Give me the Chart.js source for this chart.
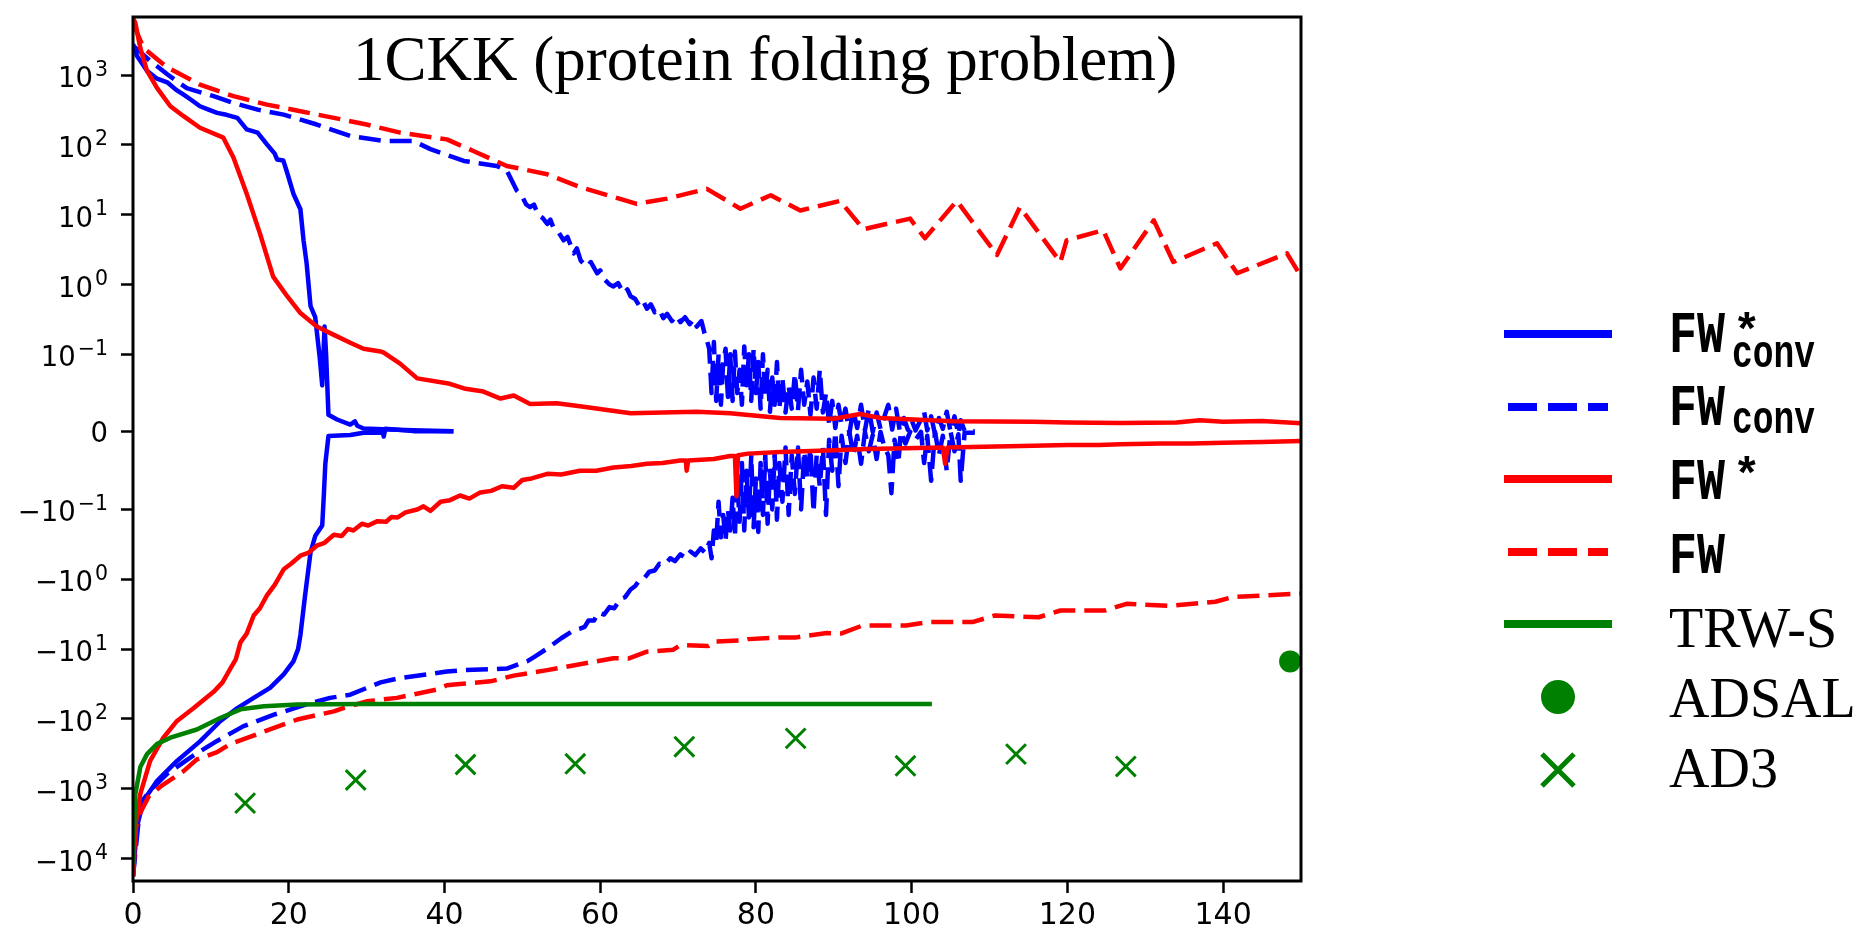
<!DOCTYPE html>
<html>
<head>
<meta charset="utf-8">
<title>1CKK (protein folding problem)</title>
<script src="https://cdn.jsdelivr.net/npm/chart.js@4.4.1/dist/chart.umd.min.js"></script>
<style>
    body { margin: 0; background: #fff; }
    #wrap { position: relative; width: 1875px; height: 936px; }
    #myChart, #overlay { position: absolute; left: 0; top: 0; }
    #overlay { pointer-events: none; }
    .tt { font-family: 'Liberation Mono', monospace; font-weight: bold; font-size: 60px; }
    .tts { font-family: 'Liberation Mono', monospace; font-weight: bold; font-size: 46px; }
    .rm { font-family: 'Liberation Serif', 'Times New Roman', serif; font-size: 56px; }
    .ylab { font-family: 'DejaVu Sans', sans-serif; font-size: 27.5px; }
</style>
</head>
<body>
<div id="wrap">
<canvas id="myChart" width="1875" height="936"></canvas>
<svg id="overlay" width="1875" height="936">
    <text x="353" y="80" font-family="'Liberation Serif', 'Times New Roman', serif" font-size="63">1CKK (protein folding problem)</text>

    <line x1="1504" y1="334" x2="1612" y2="334" stroke="#0000ff" stroke-width="8"/>
    <text class="tt" x="1669" y="352" textLength="56" lengthAdjust="spacingAndGlyphs">FW</text>
    <text class="tts" x="1733" y="346">*</text>
    <text class="tts" x="1732" y="367" textLength="83" lengthAdjust="spacingAndGlyphs">conv</text>

    <line x1="1508" y1="407" x2="1608" y2="407" stroke="#0000ff" stroke-width="8" stroke-dasharray="29 11"/>
    <text class="tt" x="1669" y="425" textLength="56" lengthAdjust="spacingAndGlyphs">FW</text>
    <text class="tts" x="1732" y="433" textLength="83" lengthAdjust="spacingAndGlyphs">conv</text>

    <line x1="1504" y1="479" x2="1612" y2="479" stroke="#ff0000" stroke-width="8"/>
    <text class="tt" x="1669" y="499" textLength="56" lengthAdjust="spacingAndGlyphs">FW</text>
    <text class="tts" x="1733" y="490">*</text>

    <line x1="1508" y1="552" x2="1608" y2="552" stroke="#ff0000" stroke-width="8" stroke-dasharray="29 11"/>
    <text class="tt" x="1669" y="573" textLength="56" lengthAdjust="spacingAndGlyphs">FW</text>

    <line x1="1504" y1="624" x2="1612" y2="624" stroke="#008000" stroke-width="8"/>
    <text class="rm" x="1669" y="647">TRW-S</text>

    <circle cx="1558" cy="697" r="17" fill="#008000"/>
    <text class="rm" x="1669" y="717">ADSAL</text>

    <path d="M1542 754 L1574 786 M1574 754 L1542 786" stroke="#008000" stroke-width="5"/>
    <text class="rm" x="1669" y="787">AD3</text>
</svg>
</div>
<script>
// y axis is symlog (linthresh 0.1, linscale 1) like matplotlib
const linthresh = 0.1;
const linscale = 1 / (1 - 1 / 10);

function symlog(v) {
    let a = Math.abs(v);
    if (a <= linthresh) return v / linthresh * linscale;
    return Math.sign(v) * (linscale + Math.log10(a / linthresh));
}

const xTicks = [0, 20, 40, 60, 80, 100, 120, 140];
const yTickValues = [-10000, -1000, -100, -10, -1, -0.1, 0, 0.1, 1, 10, 100, 1000];
const yTickBase = ['\u221210', '\u221210', '\u221210', '\u221210', '\u221210', '\u221210', '0', '10', '10', '10', '10', '10'];
const yTickExp = ['4', '3', '2', '1', '0', '\u22121', '', '\u22121', '0', '1', '2', '3'];
const xLimits = [0, 150];
const yLimits = [-21000, 6800];

// [iteration, value] pairs
const fwConvStarUp = [[0, 2800], [0.5, 1900], [1.8, 1150], [3, 900], [4.4, 790], [5.5, 620], [6.5, 525], [7.5, 440],
    [8.6, 358], [9.7, 320], [10.8, 288], [12, 270], [13.4, 244], [14.6, 167], [16, 150], [17.2, 102], [18.2, 75],
    [18.5, 62], [19.3, 60], [19.8, 40], [20.6, 20], [21.5, 12], [21.9, 4.3], [22.3, 2.0], [22.8, 0.49], [23.4, 0.34],
    [24.0, 0.094], [24.3, 0.06], [24.6, 0.25], [24.8, 0.1], [25.1, 0.022], [26.2, 0.016], [27.9, 0.0095],
    [28.5, 0.0137], [28.8, 0.008], [29.6, 0.0044], [33, 0.003], [36, 0.002], [41.15, 0.001]];

const fwConvStarLow = [[0, -18000], [0.5, -3500], [1.36, -1480], [3.1, -770], [5.65, -400], [8.6, -210], [11.2, -108],
    [13.4, -70], [15.5, -50], [17.6, -36], [19.35, -23], [20.6, -15], [21.2, -10], [21.5, -6.3], [22.1, -1.7],
    [22.8, -0.41], [23.4, -0.24], [24.3, -0.17], [24.5, -0.083], [24.7, -0.041], [25.1, -0.0053], [27.9, -0.004],
    [29.6, -0.001], [32.1, -0.001], [32.2, -0.006], [32.4, 0.004], [36, 0.001], [41.15, 0.001]];

const fwConvUp = [[0, 2650], [2.2, 1600], [4.4, 1030], [6.9, 650], [10.35, 500], [12.9, 400], [16, 320], [19.35, 272],
    [23.6, 196], [27.9, 134], [32.2, 114], [36, 114], [38.2, 87], [42.5, 59], [46.7, 50], [48, 43], [49.3, 22],
    [50, 18], [50.5, 14], [51, 12.8], [51.5, 14], [52, 10], [52.6, 9], [53.2, 7.4], [53.6, 8.5], [54, 6.5],
    [54.7, 5.5], [55.3, 4.3], [55.8, 4.8], [56.6, 2.8], [57, 3.3], [57.5, 2.2], [58.3, 1.8], [58.8, 2.1],
    [59.6, 1.45], [60, 1.6], [60.5, 1.2], [61.2, 1.0], [61.7, 0.94], [62.3, 1.05], [63, 0.75], [63.5, 0.85],
    [63.9, 0.68], [64.5, 0.62], [65, 0.5], [65.5, 0.58], [66, 0.45], [66.5, 0.52], [67, 0.4], [67.6, 0.44],
    [68.1, 0.33], [68.6, 0.38], [69.2, 0.3], [69.8, 0.36], [70.3, 0.29], [70.9, 0.34], [71.5, 0.27], [72, 0.32],
    [72.4, 0.25], [73, 0.3], [73.4, 0.2], [73.7, 0.16],
    [74.0, 0.12], [74.3, 0.05], [74.6, 0.15], [74.9, 0.04], [75.2, 0.1], [75.5, 0.035], [75.8, 0.09], [76.1, 0.12],
    [76.4, 0.045], [76.7, 0.1], [77.0, 0.04], [77.3, 0.11], [77.6, 0.05], [77.9, 0.08], [78.2, 0.035], [78.5, 0.13],
    [78.8, 0.06], [79.1, 0.1], [79.4, 0.04], [79.7, 0.12], [80.0, 0.05], [80.3, 0.09], [80.6, 0.03], [80.9, 0.1],
    [81.2, 0.045], [81.5, 0.08], [81.8, 0.026], [82.1, 0.07], [82.4, 0.035], [82.7, 0.09], [83.0, 0.03], [83.4, 0.07],
    [83.8, 0.025], [84.2, 0.06], [84.6, 0.03], [85.0, 0.075], [85.4, 0.028], [85.8, 0.08], [86.2, 0.035], [86.6, 0.065],
    [87.0, 0.022], [87.4, 0.07], [87.8, 0.03], [88.2, 0.08], [88.6, 0.025], [89.0, 0.05], [89.4, 0.01], [89.8, 0.04],
    [90.2, 0.005], [90.6, 0.035], [91.0, 0.01], [91.5, 0.03], [92.0, -0.002], [92.5, 0.028], [93.0, 0.005],
    [93.5, 0.035], [94.0, 0.002], [94.5, 0.03], [95.0, 0.0], [95.5, 0.025], [96.0, 0.004], [96.5, 0.02], [97.0, 0.035],
    [97.5, 0.003], [98.0, 0.03], [98.5, 0.0], [99.0, 0.018], [99.5, 0.003], [100.0, 0.015], [100.5, 0.002],
    [101.0, 0.012], [101.6, 0.026], [102.0, 0.002], [102.5, 0.02], [103.0, -0.003], [103.5, 0.018], [104.0, 0.004],
    [104.5, 0.026], [105.0, 0.0], [105.5, 0.02], [106.0, -0.003], [106.3, 0.015], [106.8, 0.001], [108.1, 0.001]];

const fwConvLow = [[0, -18000], [0.94, -1640], [2.2, -1060], [4.4, -610], [7.4, -355], [10.8, -207], [14.2, -127],
    [18.1, -87], [22.3, -62], [25.3, -50], [27.9, -45], [31.8, -30], [34.3, -26], [40.3, -21], [42.5, -20], [48, -19],
    [50.6, -15], [51.5, -13], [53.2, -9.8], [55, -7], [56.6, -5.4], [57.4, -5.1], [58, -4.8], [58.5, -3.9],
    [59.2, -3.9], [59.8, -3.0], [60.5, -3.2], [61.2, -2.5], [61.8, -2.6], [62.6, -1.9], [63.2, -1.8], [63.9, -1.4],
    [64.5, -1.25], [65.1, -1.0], [65.7, -0.95], [66.3, -0.78], [67, -0.75], [67.6, -0.6], [68.3, -0.62], [69, -0.5],
    [69.6, -0.55], [70.3, -0.44], [71, -0.5], [71.6, -0.4], [72.2, -0.45], [72.9, -0.36], [73.5, -0.42], [74.0, -0.3],
    [74.3, -0.5], [74.6, -0.2], [74.9, -0.3], [75.2, -0.09], [75.5, -0.25], [75.8, -0.12], [76.1, -0.28], [76.4, -0.1],
    [76.7, -0.2], [77.0, -0.085], [77.3, -0.24], [77.6, -0.06], [77.9, -0.15], [78.2, -0.04], [78.5, -0.2],
    [78.8, -0.05], [79.1, -0.13], [79.4, -0.03], [79.7, -0.18], [80.0, -0.06], [80.3, -0.21], [80.6, -0.04],
    [80.9, -0.12], [81.2, -0.03], [81.5, -0.16], [81.8, -0.05], [82.1, -0.1], [82.4, -0.028], [82.7, -0.14],
    [83.0, -0.04], [83.4, -0.09], [83.8, -0.02], [84.2, -0.12], [84.6, -0.03], [85.0, -0.08], [85.4, -0.02],
    [85.8, -0.1], [86.2, -0.025], [86.6, -0.06], [87.0, -0.02], [87.4, -0.11], [87.8, -0.03], [88.2, -0.07],
    [88.6, -0.02], [89.0, -0.12], [89.4, -0.01], [89.8, -0.05], [90.2, 0.0], [90.6, -0.07], [91.0, -0.005],
    [91.5, -0.04], [92.0, 0.0], [92.5, -0.03], [93.0, -0.005], [93.5, -0.041], [94.0, 0.0], [94.5, -0.025],
    [95.0, -0.004], [95.5, -0.035], [96.0, 0.0], [96.5, -0.02], [97.0, -0.03], [97.4, -0.079], [97.8, -0.01],
    [98.3, -0.04], [98.6, 0.0], [99.2, -0.015], [99.8, 0.0], [100.5, -0.01], [101.2, 0.0], [101.6, -0.04],
    [102.0, -0.005], [102.5, -0.063], [103.0, 0.0], [103.5, -0.03], [104.0, -0.005], [104.5, -0.05], [105.0, 0.0],
    [105.5, -0.025], [106.0, -0.003], [106.3, -0.063], [106.8, -0.001], [108.1, -0.001]];

const fwStarUp = [[0, 6500], [0.3, 5600], [0.94, 2450], [1.8, 1150], [3.1, 650], [4.8, 358], [6.5, 258], [8.6, 176],
    [11.6, 127], [12.9, 66], [14.6, 20], [16.3, 5.4], [18.0, 1.3], [19.8, 0.68], [21.5, 0.39], [23.6, 0.25],
    [25.8, 0.19], [27.9, 0.147], [29.6, 0.12], [31.8, 0.11], [32.2, 0.106], [34.3, 0.088], [36.5, 0.069],
    [40.7, 0.062], [42.5, 0.056], [45, 0.052], [47.2, 0.043], [48.9, 0.047], [51, 0.036], [54.4, 0.037],
    [57.4, 0.033], [63.9, 0.024], [68, 0.025], [72.4, 0.026], [76.7, 0.024], [83.1, 0.018], [90, 0.017],
    [93.4, 0.023], [96, 0.018], [105.3, 0.0137], [115.6, 0.013], [120, 0.012], [126.8, 0.0116], [134, 0.012],
    [137, 0.015], [140, 0.013], [145, 0.014], [150, 0.011]];

const fwStarLow = [[0, -18000], [0.3, -3500], [0.94, -1190], [2.2, -400], [3.9, -186], [5.65, -107], [7.8, -70],
    [10.35, -41], [11.5, -30], [12.5, -19], [13.2, -14], [13.8, -8], [14.6, -6], [15.5, -3.3], [16.3, -2.6],
    [17.2, -1.7], [18.2, -1.2], [19.35, -0.72], [20.3, -0.6], [21.5, -0.46], [22.5, -0.42], [23.6, -0.33],
    [24.6, -0.3], [25.8, -0.23], [26.8, -0.24], [27.6, -0.19], [28.3, -0.2], [29.4, -0.16], [30.2, -0.17],
    [31.4, -0.147], [32.5, -0.15], [33.2, -0.128], [34, -0.13], [35, -0.11], [36.5, -0.1], [37.3, -0.096],
    [38.2, -0.105], [39.5, -0.09], [40.7, -0.088], [42, -0.082], [43.2, -0.086], [44.6, -0.078], [46, -0.076],
    [47.4, -0.07], [48.9, -0.072], [50, -0.062], [51.2, -0.06], [53.2, -0.054], [55, -0.055], [57.4, -0.05],
    [59.5, -0.05], [61.7, -0.046], [64, -0.044], [66, -0.041], [68, -0.04], [70.3, -0.037], [71.0, -0.037],
    [71.1, -0.05], [71.3, -0.037], [74.6, -0.035], [76.7, -0.031], [77.3, -0.031], [77.5, -0.083], [77.7, -0.03],
    [79, -0.028], [83.1, -0.026], [89.1, -0.024], [94.3, -0.022], [104, -0.02], [104.3, -0.041], [104.6, -0.02],
    [115.6, -0.018], [120, -0.017], [124, -0.017], [126.8, -0.016], [132, -0.015], [136, -0.015], [140, -0.014],
    [145, -0.013], [150, -0.0116]];

const fwUp = [[0, 5500], [1.36, 2450], [4.4, 1290], [8.6, 730], [12.9, 500], [17.2, 378], [21.5, 304], [25.8, 244],
    [30, 196], [34.3, 150], [40.3, 120], [43.7, 82], [48, 50], [53.2, 38], [57.4, 25], [64.7, 14.3], [68.6, 17],
    [73.7, 23.5], [78, 12.2], [81.9, 19], [85.7, 11.5], [90.8, 15.8], [93.8, 6.2], [99.8, 8.8], [101.7, 4.6],
    [105.8, 15.8], [110.95, 2.65], [113.9, 12.8], [119.1, 2.1], [119.9, 4.3], [124.6, 6.0], [126.8, 1.7],
    [131.1, 8.3], [133.6, 2.1], [139.2, 3.9], [141.8, 1.45], [148.2, 2.8], [150, 1.3]];

const fwLow = [[0, -18000], [0.4, -3500], [0.94, -2200], [2, -1300], [3.7, -900], [6.5, -560], [8.2, -380],
    [10.8, -300], [12.5, -228], [15.1, -180], [16.8, -152], [19.35, -120], [21.1, -102], [25.8, -78], [27, -70],
    [30, -56], [33.9, -50], [39, -38], [40.3, -33], [41.6, -32], [45.9, -29], [48.9, -24], [53.2, -20], [57.4, -16.5],
    [61.7, -13.5], [63.7, -13.6], [66, -10.9], [69.4, -10.2], [70.3, -8.8], [73.9, -9.0], [74.6, -7.8], [78.4, -7.5],
    [79, -7.2], [83.1, -6.8], [85.2, -6.8], [89.1, -5.9], [90.9, -6.0], [93.7, -4.6], [99.3, -4.6], [102.2, -4.1],
    [107.8, -4.1], [110.7, -3.3], [116.3, -3.5], [119.1, -2.8], [124.8, -2.8], [127.6, -2.25], [133.3, -2.4],
    [139, -2.1], [141.2, -1.8], [150, -1.6]];

const trws = [[0, -12000], [0.3, -1190], [0.94, -490], [1.8, -320], [3.1, -228], [4.8, -186], [8.2, -142],
    [11.2, -97], [13.8, -73], [16.8, -66], [21.1, -62], [29.6, -61], [102.6, -61]];

const adsal = [[148.6, -15]];

const ad3 = [[14.4, -1610], [28.6, -750], [42.7, -450], [56.8, -440], [70.8, -250], [85.1, -190], [99.2, -470],
    [113.4, -320], [127.5, -480]];

const blue = '#0000ff';
const red = '#ff0000';
const green = '#008000';
const dash = [22, 9];

function toPoints(arr) {
    return arr.map(p => ({x: p[0], y: symlog(p[1])}));
}

function lineSet(arr, color, dashed, order) {
    return {
        data: toPoints(arr),
        borderColor: color,
        borderWidth: 4.5,
        borderDash: dashed ? dash : [],
        borderJoinStyle: 'round',
        pointRadius: 0,
        tension: 0,
        fill: false,
        order: order
    };
}

//draws the box round the plot area
var framePlugin = {
    id: 'frame',
    afterDatasetsDraw(chart) {
        const ctx = chart.ctx;
        const a = chart.chartArea;
        ctx.save();
        ctx.strokeStyle = '#000';
        ctx.lineWidth = 3;
        ctx.strokeRect(a.left, a.top, a.right - a.left, a.bottom - a.top);
        ctx.restore();
    }
};

var ctx = document.getElementById('myChart').getContext('2d');
var myChart = new Chart(ctx, {
    type: 'line',
    data: {
        datasets: [
            lineSet(fwConvStarUp, blue, false, 8),
            lineSet(fwConvStarLow, blue, false, 8),
            lineSet(fwConvUp, blue, true, 7),
            lineSet(fwConvLow, blue, true, 7),
            lineSet(fwStarUp, red, false, 6),
            lineSet(fwStarLow, red, false, 6),
            lineSet(fwUp, red, true, 5),
            lineSet(fwLow, red, true, 5),
            lineSet(trws, green, false, 4),
            {
                data: toPoints(adsal),
                showLine: false,
                pointStyle: 'circle',
                pointRadius: 11,
                backgroundColor: green,
                borderColor: green,
                borderWidth: 0,
                order: 3
            },
            {
                data: toPoints(ad3),
                showLine: false,
                pointStyle: 'crossRot',
                pointRadius: 14,
                borderColor: green,
                borderWidth: 3,
                order: 2
            }
        ]
    },
    options: {
        responsive: false,
        animation: false,
        devicePixelRatio: 1,
        layout: { padding: { left: 0, top: 10, right: 574, bottom: 0 } },
        plugins: {
            legend: { display: false },
            tooltip: { enabled: false }
        },
        scales: {
            x: {
                type: 'linear',
                min: xLimits[0],
                max: xLimits[1],
                afterFit: s => { s.height = 55; },
                afterBuildTicks: s => { s.ticks = xTicks.map(v => ({value: v})); },
                border: { display: false },
                grid: { drawOnChartArea: false, tickLength: 12, tickWidth: 2.5, tickColor: '#000' },
                ticks: {
                    autoSkip: false,
                    maxRotation: 0,
                    padding: 5,
                    color: '#000',
                    font: { family: 'DejaVu Sans', size: 30 }
                }
            },
            y: {
                type: 'linear',
                min: symlog(yLimits[0]),
                max: symlog(yLimits[1]),
                afterFit: s => { s.width = 133; },
                afterBuildTicks: s => { s.ticks = yTickValues.map(v => ({value: symlog(v)})); },
                border: { display: false },
                grid: { drawOnChartArea: false, tickLength: 12, tickWidth: 2.5, tickColor: '#000' },
                // labels need real superscripts, they are written into the svg below
                ticks: { display: false }
            }
        }
    },
    plugins: [framePlugin]
});

//write the y tick labels (10^k style) at the positions given by the chart's y scale
function writeYLabels(chart) {
    var svg = document.getElementById('overlay');
    var ns = 'http://www.w3.org/2000/svg';
    var yScale = chart.scales.y;
    for (let i = 0; i < yTickValues.length; i++) {
        let py = yScale.getPixelForValue(symlog(yTickValues[i]));
        let t = document.createElementNS(ns, 'text');
        t.setAttribute('class', 'ylab');
        t.setAttribute('x', 108);
        t.setAttribute('text-anchor', 'end');
        t.textContent = yTickBase[i];
        if (yTickExp[i] !== '') {
            t.setAttribute('y', py + 12);
            let sup = document.createElementNS(ns, 'tspan');
            sup.setAttribute('font-size', '20.5');
            sup.setAttribute('dy', '-11.5');
            sup.setAttribute('dx', '2');
            sup.textContent = yTickExp[i];
            t.appendChild(sup);
        } else {
            t.setAttribute('y', py + 10.5);
        }
        svg.appendChild(t);
    }
}
writeYLabels(myChart);
</script>
</body>
</html>
